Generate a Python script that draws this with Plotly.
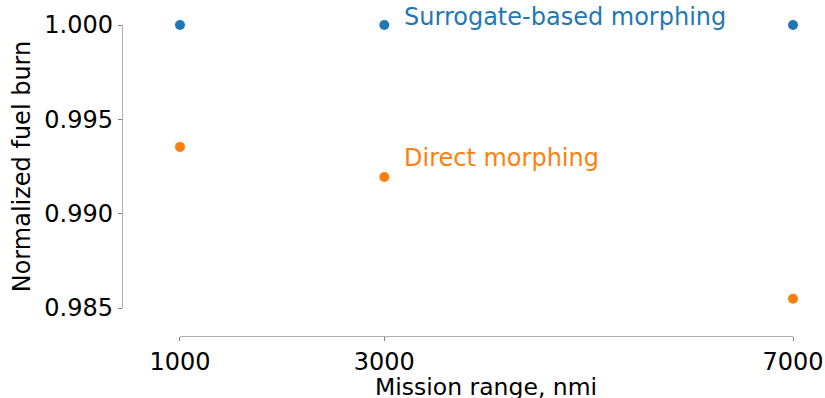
import plotly.graph_objects as go

# Mission ranges (nmi) and normalized fuel burn for the two morphing strategies
mission_range = [1000, 3000, 7000]
surrogate_burn = [1.000, 1.000, 1.000]
direct_burn = [0.99354, 0.99194, 0.98549]
y_ticks = [0.985, 0.990, 0.995, 1.000]

BLUE = "#1f77b4"
ORANGE = "#ff7f0e"
FONT = "DejaVu Sans"
FS = 24

fig = go.Figure()
fig.add_trace(go.Scatter(x=mission_range, y=surrogate_burn, mode="markers",
                         marker=dict(color=BLUE, size=10), cliponaxis=False,
                         showlegend=False))
fig.add_trace(go.Scatter(x=mission_range, y=direct_burn, mode="markers",
                         marker=dict(color=ORANGE, size=10), cliponaxis=False,
                         showlegend=False))

# Series labels placed next to the 3000 nmi points
fig.add_annotation(x=mission_range[1], y=surrogate_burn[1], xref="x", yref="y",
                   text="Surrogate-based morphing", showarrow=False,
                   xanchor="left", yanchor="middle", xshift=18, yshift=8,
                   font=dict(family=FONT, size=FS, color=BLUE))
fig.add_annotation(x=mission_range[1], y=direct_burn[1], xref="x", yref="y",
                   text="Direct morphing", showarrow=False,
                   xanchor="left", yanchor="middle", xshift=18, yshift=19,
                   font=dict(family=FONT, size=FS, color=ORANGE))

# x-axis title, centred under the axis line
fig.add_annotation(x=0.5, y=0, xref="x domain", yref="paper",
                   text="Mission range, nmi", showarrow=False,
                   xanchor="center", yanchor="top", yshift=-34.5,
                   font=dict(family=FONT, size=23.5, color="black"))

axis_common = dict(showgrid=False, zeroline=False, showline=True,
                   linecolor="#b0b0b0", linewidth=1.3, ticks="outside",
                   ticklen=4, tickwidth=1, tickcolor="#808080",
                   tickfont=dict(family=FONT, size=FS, color="black"),
                   automargin=True)

fig.update_layout(
    width=825, height=398,
    margin=dict(l=122, r=32, t=25, b=62, autoexpand=False),
    paper_bgcolor="white", plot_bgcolor="white",
    font=dict(family=FONT, size=FS, color="black"),
    xaxis=dict(axis_common, range=[1000, 7000], domain=[0.0864, 1.0],
               anchor="free", position=0, tickvals=mission_range,
               ticktext=[str(v) for v in mission_range]),
    yaxis=dict(axis_common, range=[0.985, 1.0], domain=[0.09, 1.0],
               anchor="free", position=0, tickvals=y_ticks,
               tickformat=".3f",
               title=dict(text="Normalized fuel burn", standoff=5,
                          font=dict(family=FONT, size=FS))),
)

fig.write_html("out.html")
